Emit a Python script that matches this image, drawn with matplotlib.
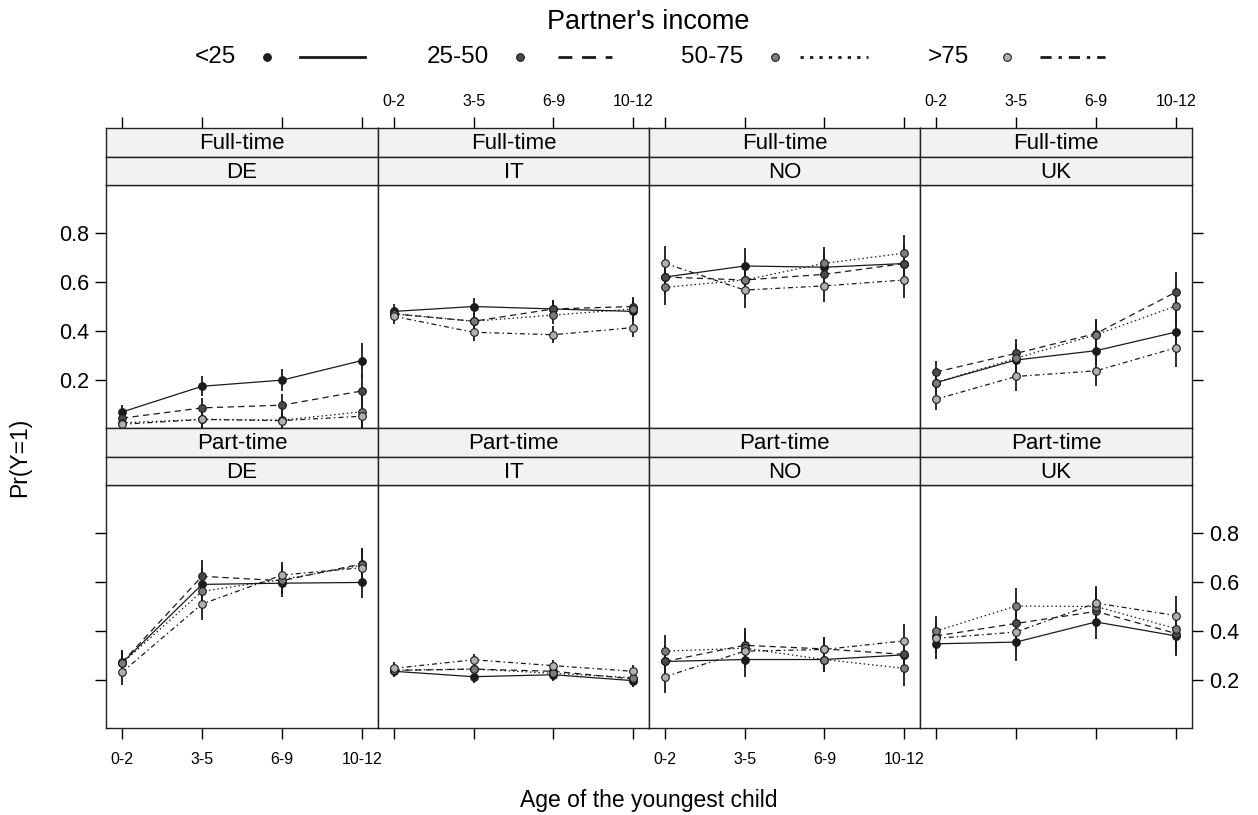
import matplotlib
matplotlib.use("Agg")
import matplotlib.pyplot as plt
from matplotlib.lines import Line2D
import numpy as np

plt.rcParams["font.family"] = ["Liberation Sans", "DejaVu Sans"]

ages = ["0-2", "3-5", "6-9", "10-12"]
countries = ["DE", "IT", "NO", "UK"]
rows = ["Full-time", "Part-time"]
income = ["<25", "25-50", "50-75", ">75"]

# values per income group (<25, 25-50, 50-75, >75), four age classes each
ft_de = [[0.07, 0.175, 0.20, 0.28],
         [0.045, 0.087, 0.098, 0.156],
         [0.026, 0.040, 0.037, 0.071],
         [0.020, 0.040, 0.035, 0.053]]
ft_it = [[0.48, 0.50, 0.49, 0.48],
         [0.47, 0.44, 0.49, 0.50],
         [0.47, 0.44, 0.465, 0.49],
         [0.46, 0.395, 0.385, 0.414]]
ft_no = [[0.62, 0.665, 0.66, 0.675],
         [0.62, 0.608, 0.631, 0.675],
         [0.578, 0.608, 0.676, 0.717],
         [0.676, 0.567, 0.584, 0.608]]
ft_uk = [[0.19, 0.282, 0.32, 0.396],
         [0.233, 0.309, 0.39, 0.559],
         [0.19, 0.289, 0.385, 0.502],
         [0.122, 0.215, 0.238, 0.332]]
pt_de = [[0.27, 0.59, 0.595, 0.598],
         [0.272, 0.623, 0.605, 0.674],
         [0.268, 0.562, 0.61, 0.668],
         [0.232, 0.51, 0.628, 0.658]]
pt_it = [[0.236, 0.214, 0.222, 0.198],
         [0.24, 0.245, 0.236, 0.205],
         [0.24, 0.245, 0.228, 0.21],
         [0.248, 0.283, 0.259, 0.236]]
pt_no = [[0.276, 0.284, 0.284, 0.303],
         [0.276, 0.342, 0.327, 0.305],
         [0.318, 0.33, 0.284, 0.248],
         [0.214, 0.318, 0.325, 0.36]]
pt_uk = [[0.348, 0.355, 0.437, 0.38],
         [0.38, 0.431, 0.48, 0.39],
         [0.40, 0.502, 0.50, 0.41],
         [0.37, 0.396, 0.514, 0.463]]

# half-widths of the interval bars per age class
ft_de_err = [0.03, 0.04, 0.045, 0.07]
ft_it_err = [0.03, 0.035, 0.035, 0.04]
ft_no_err = [0.07, 0.074, 0.065, 0.075]
ft_uk_err = [0.045, 0.06, 0.06, 0.08]
pt_de_err = [0.05, 0.065, 0.055, 0.065]
pt_it_err = [0.025, 0.025, 0.025, 0.025]
pt_no_err = [0.066, 0.07, 0.05, 0.07]
pt_uk_err = [0.06, 0.075, 0.07, 0.08]

panels = {
    ("Full-time", "DE"): (ft_de, ft_de_err), ("Full-time", "IT"): (ft_it, ft_it_err),
    ("Full-time", "NO"): (ft_no, ft_no_err), ("Full-time", "UK"): (ft_uk, ft_uk_err),
    ("Part-time", "DE"): (pt_de, pt_de_err), ("Part-time", "IT"): (pt_it, pt_it_err),
    ("Part-time", "NO"): (pt_no, pt_no_err), ("Part-time", "UK"): (pt_uk, pt_uk_err),
}

fills = ["#1c1c1c", "#4a4a4a", "#7c7c7c", "#b0b0b0"]
styles = ["-", (0, (5, 3.5)), (0, (1.2, 2.2)), (0, (4, 2.5, 1.2, 2.5))]

W, H = 1258, 815
fig = plt.figure(figsize=(W / 100, H / 100), dpi=100)

xe = [106, 378, 649, 920, 1192]
row_y = [(128, 157, 185, 428), (428, 457, 485, 728)]  # strip top, strip mid, panel top, panel bottom
xpos = np.arange(1, 5)


def fr(x0, y0, x1, y1):
    return [x0 / W, 1 - y1 / H, (x1 - x0) / W, (y1 - y0) / H]


yt = [0.2, 0.4, 0.6, 0.8]
for r, rname in enumerate(rows):
    st, sm, pt, pb = row_y[r]
    for c, cname in enumerate(countries):
        vals, err = panels[(rname, cname)]
        ax = fig.add_axes(fr(xe[c], pt, xe[c + 1], pb))
        for g in range(4):
            ax.errorbar(xpos, vals[g], yerr=err, fmt="none", ecolor="#1a1a1a", elinewidth=1.3, capsize=0, zorder=2)
        for g in range(4):
            ax.plot(xpos, vals[g], color="#1a1a1a", lw=0.9, ls=styles[g], zorder=3)
            ax.plot(xpos, vals[g], ls="none", marker="o", ms=5.5, mfc=fills[g], mec="#1a1a1a", mew=0.8, zorder=4)
        ax.set_xlim(0.8, 4.2)
        ax.set_ylim(0.005, 0.995)
        for s in ax.spines.values():
            s.set_linewidth(1.0)
            s.set_color("#222222")
        ax.set_yticks(yt)
        ax.tick_params(axis="y", direction="out", length=8, width=1, labelsize=15.5, pad=4)
        ax.tick_params(axis="x", direction="out", length=8, width=1, labelsize=11.5, pad=9)
        # y axis: alternate sides like lattice
        if c == 0:
            ax.tick_params(axis="y", left=True, right=False, labelleft=(r == 0), labelright=False)
            ax.set_yticklabels([f"{v:.1f}" for v in yt])
        elif c == 3:
            ax.tick_params(axis="y", left=False, right=True, labelleft=False, labelright=(r == 1))
            ax.set_yticklabels([f"{v:.1f}" for v in yt])
        else:
            ax.tick_params(axis="y", left=False, right=False, labelleft=False, labelright=False)
        ax.set_xticks(xpos)
        if r == 1:
            ax.set_xticklabels(ages)
            ax.tick_params(axis="x", bottom=True, labelbottom=(c in (0, 2)))
        else:
            ax.tick_params(axis="x", bottom=False, labelbottom=False)

        # strips
        for k, (y0, y1, txt) in enumerate([(st, sm, rname), (sm, pt, cname)]):
            sa = fig.add_axes(fr(xe[c], y0, xe[c + 1], y1))
            sa.set_facecolor("#f2f2f2")
            sa.set_xlim(0.8, 4.2)
            sa.set_yticks([])
            for s in sa.spines.values():
                s.set_linewidth(1.0)
                s.set_color("#222222")
            sa.text(0.5, 0.45, txt, transform=sa.transAxes, ha="center", va="center", fontsize=16)
            if r == 0 and k == 0:
                sa.set_xticks(xpos)
                sa.set_xticklabels(ages)
                sa.tick_params(axis="x", top=True, bottom=False, labeltop=(c in (1, 3)), labelbottom=False,
                               direction="out", length=8, width=1, labelsize=11.5, pad=6)
            else:
                sa.set_xticks([])

fig.text(0.5 * (xe[0] + xe[-1]) / W, 1 - 800 / H, "Age of the youngest child", ha="center", va="center", fontsize=16.5)
fig.text(20 / W, 1 - 457 / H, "Pr(Y=1)", ha="center", va="center", rotation=90, fontsize=16.5)

# key on top
fig.text(648 / W, 1 - 22 / H, "Partner's income", ha="center", va="center", fontsize=19.5)
key_x = [(215, 267, 300, 365), (458, 520, 558, 612), (712, 775, 800, 868), (948, 1007, 1040, 1105)]
ky = 1 - 57 / H
for g, lab in enumerate(income):
    tx, mx, l0, l1 = key_x[g]
    fig.text(tx / W, ky, lab, ha="center", va="center", fontsize=17.5)
    fig.add_artist(Line2D([mx / W], [ky], transform=fig.transFigure, ls="none", marker="o", ms=5.5,
                          mfc=fills[g], mec="#1a1a1a", mew=0.8))
    fig.add_artist(Line2D([l0 / W, l1 / W], [ky, ky], transform=fig.transFigure, color="#1a1a1a", lw=2.0,
                          ls=styles[g]))

fig.savefig("out.png", dpi=100)
